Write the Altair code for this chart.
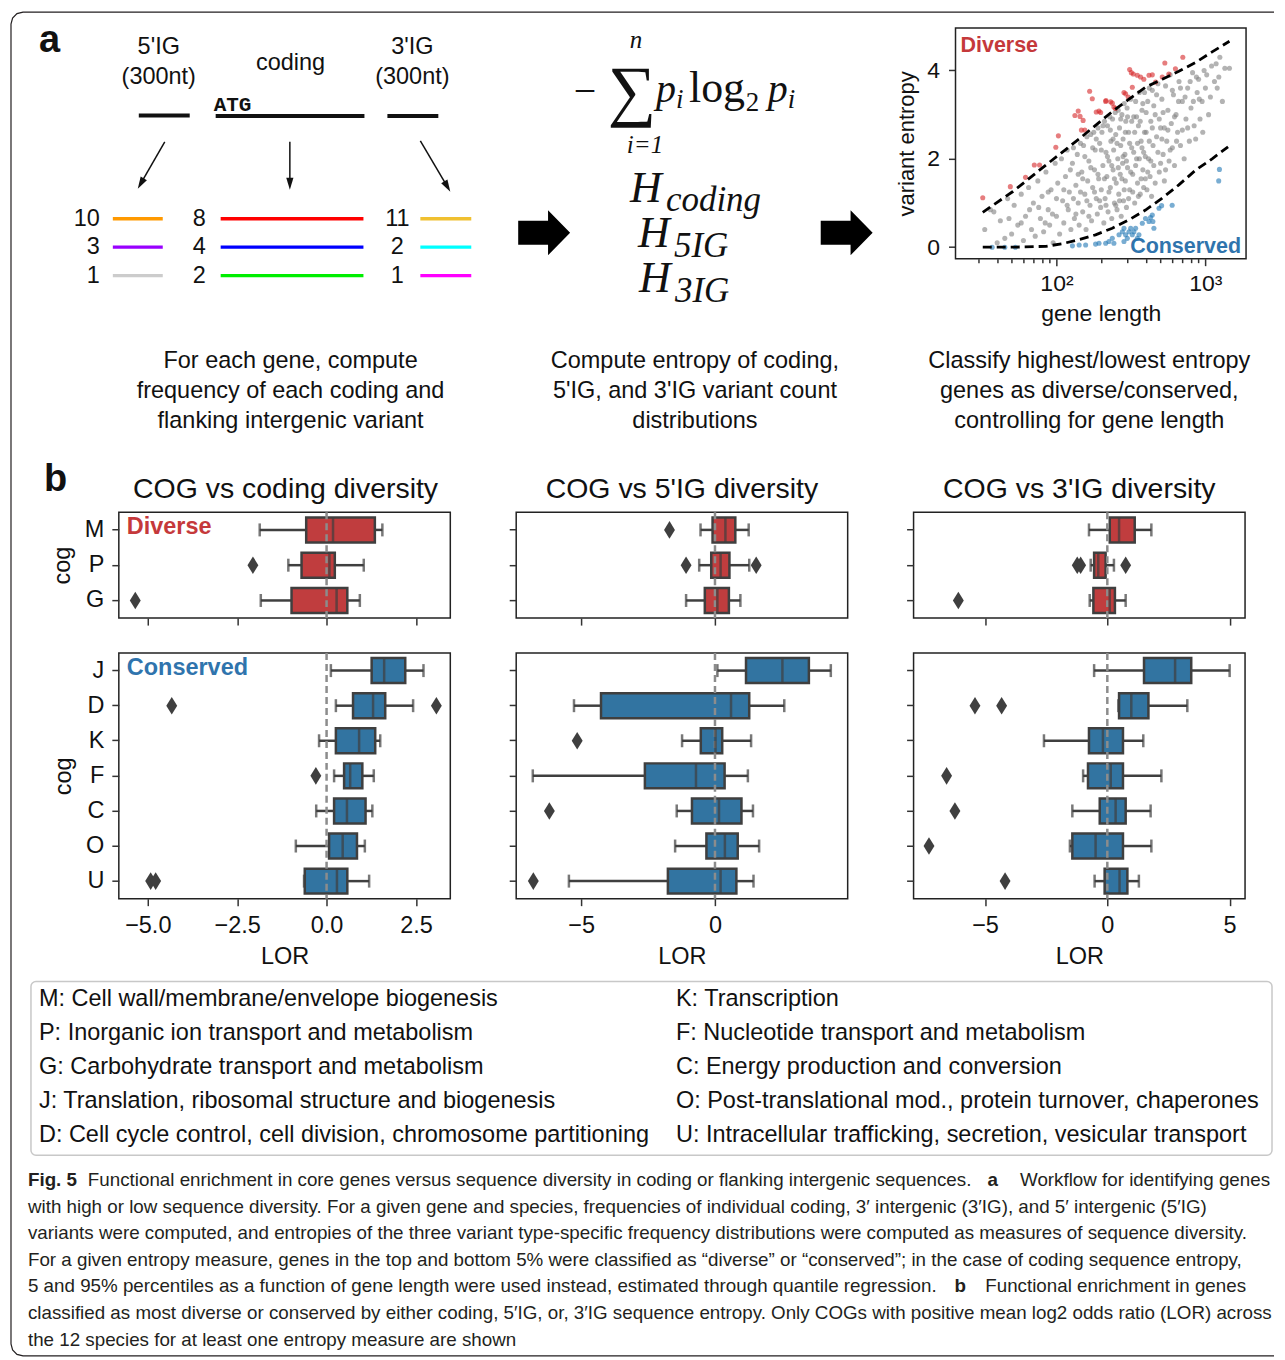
import altair as alt
import pandas as pd

SANS = "Liberation Sans"
SERIF = "Liberation Serif"
MONO = "Liberation Mono"
INK = "#111111"
EDGE = "#3f3f3f"
RED_BOX, BLUE_BOX = "#c03d3e", "#3274a1"
RED_TXT, BLUE_TXT = "#c5393b", "#2f74ad"
RED_PT, BLUE_PT, GREY_PT = "#d62728", "#1f77b4", "#808080"
FS = 23.5  # base font size

# ------------------------------------------------------------------ data: panel b
COGS_DIVERSE = ["M", "P", "G"]
COGS_CONSERVED = ["J", "D", "K", "F", "C", "O", "U"]
# per COG: [whisker low, q1, median, q3, whisker high]
CODING_STATS = {
    "M": [-1.87, -0.57, 0.18, 1.35, 1.56], "P": [-1.07, -0.70, 0.08, 0.23, 1.04],
    "G": [-1.84, -0.98, 0.28, 0.58, 0.93], "J": [0.12, 1.26, 1.61, 2.20, 2.71],
    "D": [0.26, 0.74, 1.30, 1.64, 2.42], "K": [-0.21, 0.26, 0.91, 1.36, 1.50],
    "F": [0.21, 0.49, 0.66, 1.00, 1.32], "C": [-0.29, 0.21, 0.57, 1.09, 1.28],
    "O": [-0.86, 0.07, 0.45, 0.85, 1.07], "U": [-0.63, -0.61, 0.29, 0.58, 1.19],
}
CODING_OUT = {"P": [-2.06], "G": [-5.35], "D": [-4.33, 3.07], "F": [-0.30], "U": [-4.92, -4.78]}
IG5_STATS = {
    "M": [-0.54, -0.09, 0.39, 0.76, 1.26], "P": [-0.59, -0.14, 0.21, 0.54, 1.28],
    "G": [-1.08, -0.38, 0.09, 0.52, 0.95], "J": [0.09, 1.16, 2.52, 3.51, 4.33],
    "D": [-5.27, -4.26, 0.60, 1.28, 2.59], "K": [-1.23, -0.53, 0.02, 0.27, 1.35],
    "F": [-6.81, -2.62, -0.71, 0.36, 1.23], "C": [-1.43, -0.86, 0.15, 0.99, 1.42],
    "O": [-1.49, -0.32, 0.37, 0.85, 1.65], "U": [-5.46, -1.76, 0.21, 0.80, 1.44],
}
IG5_OUT = {"M": [-1.70], "P": [-1.08, 1.54], "K": [-5.15], "C": [-6.19], "U": [-6.79]}
IG3_STATS = {
    "M": [-0.75, 0.10, 0.48, 1.12, 1.80], "P": [-0.68, -0.54, -0.37, -0.07, 0.27],
    "G": [-0.72, -0.57, 0.10, 0.31, 0.75], "J": [-0.54, 1.50, 2.77, 3.43, 5.00],
    "D": [0.45, 0.48, 0.98, 1.68, 3.27], "K": [-2.59, -0.75, -0.18, 0.64, 1.47],
    "F": [-0.99, -0.79, 0.14, 0.64, 2.21], "C": [-1.43, -0.31, 0.34, 0.75, 1.77],
    "O": [-1.53, -1.43, -0.48, 0.64, 1.80], "U": [-0.52, -0.11, 0.50, 0.82, 1.29],
}
IG3_OUT = {"P": [-1.23, -1.09, 0.75], "G": [-6.09], "D": [-5.41, -4.32], "F": [-6.57],
           "C": [-6.23], "O": [-7.29], "U": [-4.18]}
COL_DOMAINS = [[-5.81, 3.46], [-7.43, 4.96], [-7.92, 5.63]]
COL_TICKS = [[-5, -2.5, 0, 2.5], [-5, 0], [-5, 0, 5]]
COL_FORMATS = [".1f", "d", "d"]
COL_TITLES = ["COG vs coding diversity", "COG vs 5'IG diversity", "COG vs 3'IG diversity"]

# ------------------------------------------------------------------ data: panel a scatter
GREY_GENES = [
    (33, 0.40), (36, 0.85), (38, 0.80), (40, 0.10), (42, 0.60), (45, 0.20), (47, 1.10), (50, 0.30),
    (52, 0.95), (55, 0.50), (58, 1.20), (60, 0.15), (62, 0.70), (65, 1.35), (68, 0.40), (70, 1.00),
    (72, 0.25), (75, 1.50), (78, 0.65), (80, 1.15), (82, 0.35), (85, 1.70), (88, 0.85), (90, 0.50),
    (92, 1.30), (95, 0.10), (98, 1.90), (100, 0.70), (102, 1.45), (105, 0.30), (108, 2.00), (110, 1.05),
    (112, 0.55), (115, 1.60), (118, 2.20), (120, 0.85), (122, 1.25), (125, 0.40), (128, 1.90), (130, 2.25),
    (132, 0.65), (135, 1.40), (138, 2.10), (140, 1.00), (142, 0.50), (145, 2.35), (148, 1.70), (150, 0.80),
    (152, 2.30), (155, 1.20), (158, 0.40), (160, 2.50), (162, 1.50), (165, 1.95), (168, 0.95), (170, 2.55),
    (172, 0.60), (175, 1.35), (178, 2.60), (180, 1.75), (182, 2.20), (185, 1.10), (188, 0.75), (190, 2.70),
    (192, 1.55), (195, 2.35), (198, 0.90), (200, 1.30), (202, 2.60), (205, 1.85), (208, 0.55), (210, 2.85),
    (212, 1.10), (215, 2.15), (218, 1.60), (220, 2.75), (222, 0.80), (225, 1.95), (228, 2.95), (230, 1.35),
    (232, 2.40), (235, 0.65), (238, 2.90), (240, 1.75), (242, 2.20), (245, 1.00), (248, 3.05), (250, 2.55),
    (252, 1.45), (255, 0.85), (258, 2.00), (260, 3.10), (262, 1.20), (265, 2.70), (268, 1.65), (270, 2.30),
    (272, 0.70), (275, 3.00), (278, 1.90), (280, 2.45), (282, 1.05), (285, 3.25), (288, 2.10), (290, 1.50),
    (292, 2.85), (295, 0.90), (298, 3.15), (300, 1.80), (305, 2.60), (310, 1.30), (315, 3.35), (320, 2.25),
    (325, 1.65), (330, 2.95), (335, 1.00), (340, 3.30), (345, 2.00), (350, 1.45), (355, 2.75), (360, 3.50),
    (365, 1.20), (370, 2.40), (375, 3.10), (380, 1.75), (385, 2.15), (390, 3.50), (395, 1.55), (400, 2.60),
    (405, 1.30), (410, 3.30), (415, 2.00), (420, 3.60), (425, 1.60), (430, 2.85), (435, 1.15), (440, 3.55),
    (445, 2.30), (450, 1.85), (460, 3.00), (470, 2.50), (480, 3.70), (490, 1.70), (500, 2.70), (510, 3.35),
    (520, 2.10), (530, 1.50), (540, 3.65), (550, 2.40), (560, 3.10), (570, 1.95), (580, 3.90), (590, 2.80),
    (600, 2.25), (610, 3.45), (620, 1.85), (635, 3.00), (650, 2.60), (665, 3.75), (680, 2.30), (700, 3.30),
    (720, 2.00), (740, 2.90), (760, 3.60), (780, 2.40), (800, 3.15), (820, 3.95), (840, 2.75), (860, 2.45),
    (880, 3.50), (900, 3.80), (920, 2.90), (950, 3.30), (980, 4.00), (1000, 3.60), (1050, 3.00), (1100, 4.10),
    (1150, 3.75), (1200, 3.60), (1250, 4.30), (1300, 3.30), (1350, 4.05), (1450, 4.05),
    (150, 1.55), (155, 2.05), (160, 1.05), (165, 0.70), (170, 1.80), (175, 2.25), (180, 1.25), (185, 2.45),
    (190, 1.65), (195, 1.05), (200, 2.20), (205, 2.75), (210, 1.55), (215, 0.95), (220, 2.05), (225, 1.25),
    (230, 2.65), (235, 1.85), (240, 2.45), (245, 1.55), (250, 0.95), (255, 2.35), (260, 1.80), (265, 1.05),
    (270, 2.90), (275, 1.55), (280, 2.05), (285, 1.30), (290, 2.60), (295, 1.95), (300, 2.95), (305, 1.10),
    (310, 2.35), (315, 1.70), (320, 2.85), (325, 1.25), (330, 2.15), (335, 2.60), (340, 1.85), (345, 2.95),
    (350, 2.35), (355, 1.15), (360, 2.00), (365, 2.85), (370, 1.55), (375, 2.25), (380, 3.25), (385, 1.35),
    (390, 2.60), (395, 2.05), (400, 3.05), (410, 1.70), (420, 2.40), (430, 1.95), (440, 2.70), (450, 3.20),
    (460, 1.45), (470, 3.45), (480, 2.15), (490, 2.90), (500, 1.90), (510, 2.45), (520, 3.05), (530, 2.70),
    (540, 1.75), (560, 2.65), (580, 2.20), (600, 3.55), (620, 2.95), (640, 2.40), (660, 3.30), (680, 3.60),
    (700, 2.65), (730, 3.40), (760, 2.70), (790, 3.75), (830, 3.30), (870, 3.85), (910, 3.35), (960, 2.60),
    (1020, 3.90), (1080, 3.40), (1180, 4.15), (1230, 3.85), (130, 1.10), (135, 0.75), (140, 1.65),
    (145, 1.25), (112, 1.30), (118, 0.95), (124, 1.75), (100, 1.10), (94, 0.75), (88, 1.25), (84, 0.55),
    (76, 0.90), (66, 0.85), (58, 0.55), (48, 0.65),
]
DIVERSE_GENES = [
    (32, 1.12), (49, 1.37), (62, 1.58), (71, 1.86), (77, 1.86), (99, 2.26), (103, 2.52), (133, 2.98),
    (140, 3.08), (144, 2.96), (151, 2.87), (155, 2.65), (147, 2.65), (167, 3.53), (174, 3.36), (185, 3.06),
    (193, 3.08), (198, 3.05), (214, 3.30), (215, 3.32), (231, 3.29), (237, 3.26), (243, 3.17), (249, 3.14),
    (284, 3.50), (291, 3.47), (303, 3.40), (310, 4.02), (318, 3.95), (323, 3.62), (328, 3.92), (349, 3.89),
    (367, 3.85), (386, 3.80), (418, 3.89), (440, 3.90), (463, 3.74), (513, 3.85), (534, 4.17), (568, 3.92),
    (629, 4.04), (705, 4.30),
]
CONSERVED_GENES = [
    (37, 0.0), (45, 0.0), (53, 0.0), (128, 0.03), (142, 0.05), (157, 0.05), (183, 0.07), (193, 0.09),
    (214, 0.09), (225, 0.13), (237, 0.20), (243, 0.09), (263, 0.28), (277, 0.35), (284, 0.43), (284, 0.13),
    (291, 0.28), (299, 0.20), (307, 0.35), (315, 0.43), (323, 0.28), (331, 0.35), (340, 0.43), (349, 0.20),
    (358, 0.28), (377, 0.54), (396, 0.65), (418, 0.58), (428, 0.67), (440, 0.73), (444, 0.58), (451, 0.43),
    (488, 0.88), (508, 0.94), (598, 0.95), (1242, 1.76), (1228, 1.50),
]
UPPER_LEN = [32, 51, 85, 142, 237, 307, 396, 513, 663, 857, 1109, 1450]
UPPER_H = [0.79, 1.26, 1.86, 2.45, 3.07, 3.35, 3.62, 3.80, 3.98, 4.18, 4.42, 4.66]
LOWER_LEN = [32, 51, 85, 110, 142, 183, 237, 307, 396, 513, 663, 857, 1109, 1419]
LOWER_H = [0.0, 0.0, 0.02, 0.08, 0.17, 0.28, 0.43, 0.62, 0.84, 1.11, 1.41, 1.74, 2.0, 2.27]
LEN_DOMAIN = [21, 1874]
H_DOMAIN = [-0.26, 4.96]

# ------------------------------------------------------------------ data: panel a workflow
COUNTS_5IG, COUNTS_CODING, COUNTS_3IG = ["10", "3", "1"], ["8", "4", "2"], ["11", "2", "1"]
COLORS_5IG = ["#ff9900", "#9900ff", "#cccccc"]
COLORS_CODING = ["#ff0000", "#0000ff", "#00ee00"]
COLORS_3IG = ["#f0c030", "#00ffff", "#ff00ff"]
STEP_TEXT = [
    ["For each gene, compute", "frequency of each coding and", "flanking intergenic variant"],
    ["Compute entropy of coding,", "5'IG, and 3'IG variant count", "distributions"],
    ["Classify highest/lowest entropy", "genes as diverse/conserved,", "controlling for gene length"],
]
LEGEND_LEFT = [
    "M: Cell wall/membrane/envelope biogenesis",
    "P: Inorganic ion transport and metabolism",
    "G: Carbohydrate transport and metabolism",
    "J: Translation, ribosomal structure and biogenesis",
    "D: Cell cycle control, cell division, chromosome partitioning",
]
LEGEND_RIGHT = [
    "K: Transcription",
    "F: Nucleotide transport and metabolism",
    "C: Energy production and conversion",
    "O: Post-translational mod., protein turnover, chaperones",
    "U: Intracellular trafficking, secretion, vesicular transport",
]
CAPTION = [
    [("Fig. 5", "bold", "left", 27),
     ("Functional enrichment in core genes versus sequence diversity in coding or flanking intergenic sequences.", "normal", "left", 87),
     ("a", "bold", "left", 988), ("Workflow for identifying genes", "normal", "right", 1271)],
    [("with high or low sequence diversity. For a given gene and species, frequencies of individual coding, 3\u2032 intergenic (3\u2032IG), and 5\u2032 intergenic (5\u2032IG)", "normal", "left", 27)],
    [("variants were computed, and entropies of the three variant type-specific frequency distributions were computed as measures of sequence diversity.", "normal", "left", 27)],
    [("For a given entropy measure, genes in the top and bottom 5% were classified as \u201cdiverse\u201d or \u201cconserved\u201d; in the case of coding sequence entropy,", "normal", "left", 27)],
    [("5 and 95% percentiles as a function of gene length were used instead, estimated through quantile regression.", "normal", "left", 27),
     ("b", "bold", "left", 955), ("Functional enrichment in genes", "normal", "right", 1247)],
    [("classified as most diverse or conserved by either coding, 5\u2032IG, or, 3\u2032IG sequence entropy. Only COGs with positive mean log2 odds ratio (LOR) across", "normal", "left", 27)],
    [("the 12 species for at least one entropy measure are shown", "normal", "left", 27)],
]

# ------------------------------------------------------------------ canvas (page-pixel scale)
CANVAS_W, CANVAS_H = 332, 450
XC = alt.Scale(domain=[118, 118 + CANVAS_W], nice=False, zero=False)
YC = alt.Scale(domain=[26, 26 + CANVAS_H], nice=False, zero=False, reverse=True)
CX = alt.X("x:Q", scale=XC, axis=None)
CY = alt.Y("y:Q", scale=YC, axis=None)


def T(rows, size, color=INK, weight="normal", style="normal", font=SANS, align="left", baseline="middle"):
    df = pd.DataFrame(rows, columns=["x", "y", "t"])
    return alt.Chart(df).mark_text(fontSize=size, color=color, fontWeight=weight, fontStyle=style,
                                   font=font, align=align, baseline=baseline).encode(x=CX, y=CY, text="t:N")


def S(rows):
    df = pd.DataFrame(rows, columns=["x", "x2", "y", "y2", "c", "w"])
    return alt.Chart(df).mark_rule(strokeCap="butt").encode(
        x=CX, x2="x2:Q", y=CY, y2="y2:Q",
        color=alt.Color("c:N", scale=None), size=alt.Size("w:Q", scale=None))


HEAD = "M0,1L-0.6,-1L0.6,-1Z"
BLOCK = "M-1,-0.46L0.15,-0.46L0.15,-0.865L1,0L0.15,0.865L0.15,0.46L-1,0.46Z"
DIAMOND = "M0,-1L0.62,0L0,1L-0.62,0Z"

layers = []
layers.append(alt.Chart(pd.DataFrame({"x": [8], "x2": [9], "y": [8], "y2": [9]})).mark_rect(opacity=0)
              .encode(x=CX, x2="x2:Q", y=CY, y2="y2:Q"))
# figure frame (open on the right, as in the cropped original)
FRAME = [(1275, 10), (22, 10), (16, 11.6), (11.6, 16), (10, 22), (10, 1344), (11.6, 1350), (16, 1354.4),
         (22, 1356), (1275, 1356)]
layers.append(alt.Chart(pd.DataFrame([dict(x=x, y=y, i=i) for i, (x, y) in enumerate(FRAME)]))
              .mark_line(color="#231f20", strokeWidth=1.2).encode(x=CX, y=CY, order="i:Q"))
layers.append(alt.Chart(pd.DataFrame({"x": [30], "x2": [1273], "y": [981], "y2": [1155]}))
              .mark_rect(cornerRadius=5, fillOpacity=0, stroke="#c8c8c8", strokeWidth=1.5)
              .encode(x=CX, x2="x2:Q", y=CY, y2="y2:Q"))
# panel labels
layers.append(T([(38, 50, "a"), (43, 490, "b")], 38, weight="bold", baseline="alphabetic"))
# sequence labels
layers.append(T([(158, 45, "5'IG"), (158, 75, "(300nt)"), (290, 61, "coding"),
                 (412, 45, "3'IG"), (412, 75, "(300nt)")], FS, align="center"))
layers.append(T([(213, 109, "ATG")], 21, weight="bold", font=MONO, baseline="alphabetic"))
ROW_Y = [217, 245.5, 274]
seg = [(138, 189, 113.5, 113.5, "#111111", 4), (215, 364, 114, 114, "#111111", 4),
       (387, 438, 114, 114, "#111111", 4)]
for i in range(3):
    seg.append((112, 162, ROW_Y[i], ROW_Y[i], COLORS_5IG[i], 3.3))
    seg.append((220, 363, ROW_Y[i], ROW_Y[i], COLORS_CODING[i], 3.3))
    seg.append((420, 471, ROW_Y[i], ROW_Y[i], COLORS_3IG[i], 3.3))
seg += [(164, 141.5, 140, 179.2, "#111111", 1.5), (289.3, 289.3, 140, 179, "#111111", 1.5),
        (420, 445.4, 139, 182.2, "#111111", 1.5)]
layers.append(S(seg))
layers.append(alt.Chart(pd.DataFrame({"x": [140, 289.3, 447], "y": [181.8, 182, 184.8], "a": [30, 0, 330]}))
              .mark_point(shape=HEAD, filled=True, size=144, color="#111111", opacity=1)
              .encode(x=CX, y=CY, angle=alt.Angle("a:Q", scale=None)))
layers.append(T([(99, ROW_Y[i], COUNTS_5IG[i]) for i in range(3)], FS, align="right"))
layers.append(T([(198.5, ROW_Y[i], COUNTS_CODING[i]) for i in range(3)], FS, align="center"))
layers.append(T([(397, ROW_Y[i], COUNTS_3IG[i]) for i in range(3)], FS, align="center"))
layers.append(alt.Chart(pd.DataFrame({"x": [544, 847], "y": [231, 231]}))
              .mark_point(shape=BLOCK, filled=True, size=2704, color="black", opacity=1).encode(x=CX, y=CY))
# formula
layers.append(T([(585, 90, "\u2212")], 40, font=SERIF, align="center"))
layers.append(T([(632, 91, "\u2211")], 68, font=SERIF, align="center"))
layers.append(T([(636, 38, "n"), (645, 143, "i=1")], 25, font=SERIF, style="italic", align="center"))
layers.append(T([(656, 100, "p"), (768, 100, "p")], 40, font=SERIF, style="italic", baseline="alphabetic"))
layers.append(T([(676, 106, "i"), (788, 106, "i")], 27, font=SERIF, style="italic", baseline="alphabetic"))
layers.append(T([(689, 100, "log")], 44, font=SERIF, baseline="alphabetic"))
layers.append(T([(746, 109, "2")], 27, font=SERIF, baseline="alphabetic"))
layers.append(T([(630, 200, "H"), (638, 245, "H"), (639, 290, "H")], 44, font=SERIF, style="italic",
                baseline="alphabetic"))
layers.append(T([(666, 209, "coding"), (674, 255, "5IG"), (675, 300, "3IG")], 35, font=SERIF,
                style="italic", baseline="alphabetic"))
# step descriptions
for cx, lines in zip([290, 695, 1090], STEP_TEXT):
    layers.append(T([(cx, 360 + 30 * k, s) for k, s in enumerate(lines)], FS, align="center"))
# scatter annotations
layers.append(T([(961, 44, "Diverse")], 21.5, color=RED_TXT, weight="bold"))
layers.append(T([(1242, 245, "Conserved")], 21.5, color=BLUE_TXT, weight="bold", align="right"))
# panel b titles & annotations
layers.append(T([(285, 488, COL_TITLES[0]), (682, 488, COL_TITLES[1]), (1080, 488, COL_TITLES[2])], 28.5,
                align="center"))
layers.append(T([(126, 526, "Diverse")], FS, color=RED_TXT, weight="bold"))
layers.append(T([(126, 667, "Conserved")], FS, color=BLUE_TXT, weight="bold"))
# legend
LEG_Y = [999, 1033, 1067, 1101, 1135]
layers.append(T([(38, LEG_Y[i], s) for i, s in enumerate(LEGEND_LEFT)], FS))
layers.append(T([(676, LEG_Y[i], s) for i, s in enumerate(LEGEND_RIGHT)], FS))
# caption
CAP_Y = [1180, 1207, 1233, 1260, 1286, 1313, 1340]
for groupkey in [("normal", "left"), ("normal", "right"), ("bold", "left")]:
    rows = [(x, CAP_Y[i], s) for i, line in enumerate(CAPTION) for (s, w, a, x) in line if (w, a) == groupkey]
    if rows:
        layers.append(T(rows, 18.8, color="#231f20", weight=groupkey[0], align=groupkey[1]))

canvas = alt.layer(*layers).properties(width=CANVAS_W, height=CANVAS_H)

spacer = alt.Chart(pd.DataFrame({"v": [0]})).mark_point(opacity=0).encode(
    x=alt.X("v:Q", axis=None), y=alt.Y("v:Q", axis=None)).properties(width=100, height=1)

# ------------------------------------------------------------------ scatter
# its grid cell starts at the third box column (x=914); the plot itself spans 956..1247
SC_CELL_W, SC_PLOT_LEFT = 333, 42
sc_rows = ([("other", L, H) for L, H in GREY_GENES] + [("diverse", L, H) for L, H in DIVERSE_GENES]
           + [("conserved", L, H) for L, H in CONSERVED_GENES])
sc_df = pd.DataFrame(sc_rows, columns=["grp", "len", "H"])
xs_sc = alt.Scale(type="log", domain=LEN_DOMAIN, nice=False, range=[SC_PLOT_LEFT, SC_CELL_W])
ys_sc = alt.Scale(domain=H_DOMAIN, nice=False, zero=False)
MINOR = [30, 40, 50, 60, 70, 80, 90, 100, 200, 300, 400, 500, 600, 700, 800, 900, 1000]
xax_sc = alt.Axis(values=MINOR, title="gene length", labelPadding=7, titlePadding=7, labelFontSize=23,
                  titleFontSize=23,
                  labelExpr="datum.value == 100 ? '10\u00b2' : (datum.value == 1000 ? '10\u00b3' : '')",
                  tickSize={"condition": {"test": "datum.value == 100 || datum.value == 1000", "value": 7},
                            "value": 4})
yax_sc = alt.Axis(values=[0, 2, 4], format="d", title="variant entropy", labelPadding=9, titlePadding=8,
                  labelFontSize=23, titleFontSize=22, offset=-SC_PLOT_LEFT)
SX = lambda f: alt.X(f"{f}:Q", scale=xs_sc, axis=xax_sc)
SY = lambda f: alt.Y(f"{f}:Q", scale=ys_sc, axis=yax_sc)
frame_df = pd.DataFrame({"x0": [LEN_DOMAIN[0]], "x1": [LEN_DOMAIN[1]], "y0": [H_DOMAIN[0]], "y1": [H_DOMAIN[1]]})
sc_frame = alt.Chart(frame_df).mark_rect(fillOpacity=0, stroke="#222222", strokeWidth=1.5).encode(
    x=SX("x0"), x2="x1:Q", y=SY("y0"), y2="y1:Q")
pts = alt.Chart(sc_df).mark_circle(size=26, opacity=0.6).encode(
    x=SX("len"), y=SY("H"),
    color=alt.Color("grp:N", scale=alt.Scale(domain=["other", "diverse", "conserved"],
                                             range=[GREY_PT, RED_PT, BLUE_PT]), legend=None),
)
curves = []
for L, H in [(UPPER_LEN, UPPER_H), (LOWER_LEN, LOWER_H)]:
    cdf = pd.DataFrame({"len": L, "H": H})
    curves.append(alt.Chart(cdf).mark_line(color="black", strokeWidth=2.8, strokeDash=[9, 5]).encode(
        x=SX("len"), y=SY("H")))
scatter = alt.layer(pts, *curves, sc_frame).properties(width=SC_CELL_W, height=231)


# ------------------------------------------------------------------ box panels
def box_panel(stats, outs, cogs, domain, ticks, fmt, fill, first_col, bottom, height):
    sdf = pd.DataFrame([dict(cog=c, lo=stats[c][0], q1=stats[c][1], med=stats[c][2], q3=stats[c][3],
                             hi=stats[c][4]) for c in cogs])
    odf = pd.DataFrame([dict(cog=c, v=v) for c in cogs for v in outs.get(c, [])])
    xs = alt.Scale(domain=domain, nice=False, zero=False)
    ys = alt.Scale(domain=cogs, paddingInner=0, paddingOuter=0)
    xa = alt.Axis(values=ticks, format=fmt, labels=bottom, title="LOR" if bottom else None,
                  labelPadding=8, titlePadding=7)
    ya = alt.Axis(labels=first_col, title="cog" if first_col else None, labelPadding=8, titlePadding=10)

    def X(f):
        return alt.X(f"{f}:Q", scale=xs, axis=xa)

    Y = alt.Y("cog:N", scale=ys, axis=ya, sort=cogs)
    base = alt.Chart(sdf)
    lay = [
        base.mark_rule(color=EDGE, strokeWidth=2.5).encode(x=X("lo"), x2="q1:Q", y=Y),
        base.mark_rule(color=EDGE, strokeWidth=2.5).encode(x=X("q3"), x2="hi:Q", y=Y),
        base.mark_tick(color=EDGE, thickness=2.5, size=13).encode(x=X("lo"), y=Y),
        base.mark_tick(color=EDGE, thickness=2.5, size=13).encode(x=X("hi"), y=Y),
        base.mark_bar(size=25, color=fill, stroke=EDGE, strokeWidth=2.5).encode(x=X("q1"), x2="q3:Q", y=Y),
        alt.Chart(pd.DataFrame({"zero": [0.0]})).mark_rule(color="#8c8c8c", strokeWidth=2.5,
                                                           strokeDash=[7, 4]).encode(x=X("zero")),
        base.mark_tick(color=EDGE, thickness=2.5, size=25).encode(x=X("med"), y=Y),
    ]
    if len(odf):
        lay.append(alt.Chart(odf).mark_point(shape=DIAMOND, filled=True, color=EDGE, opacity=1, size=310)
                   .encode(x=X("v"), y=Y))
    return alt.layer(*lay).properties(width=332, height=height,
                                      view=alt.ViewBackground(stroke="#222222", strokeWidth=1.5))


tops, bots = [], []
for j, (st, ou) in enumerate([(CODING_STATS, CODING_OUT), (IG5_STATS, IG5_OUT), (IG3_STATS, IG3_OUT)]):
    tops.append(box_panel(st, ou, COGS_DIVERSE, COL_DOMAINS[j], COL_TICKS[j], COL_FORMATS[j], RED_BOX,
                          j == 0, False, 106))
    bots.append(box_panel(st, ou, COGS_CONSERVED, COL_DOMAINS[j], COL_TICKS[j], COL_FORMATS[j], BLUE_BOX,
                          j == 0, True, 246))

chart = (
    alt.concat(canvas, spacer, scatter, *tops, *bots, columns=3,
               spacing={"row": 35, "column": 66}, bounds="flush", align="each")
    .properties(padding=0, background="white")
    .configure_view(strokeWidth=0)
    .configure_axis(labelFont=SANS, titleFont=SANS, labelFontSize=FS, titleFontSize=FS,
                    titleFontWeight="normal", labelColor=INK, titleColor=INK, tickColor="#333333",
                    tickWidth=1.5, tickSize=7, domain=False, grid=False)
)
chart.save("out.html", embed_options={"renderer": "svg", "actions": False})
